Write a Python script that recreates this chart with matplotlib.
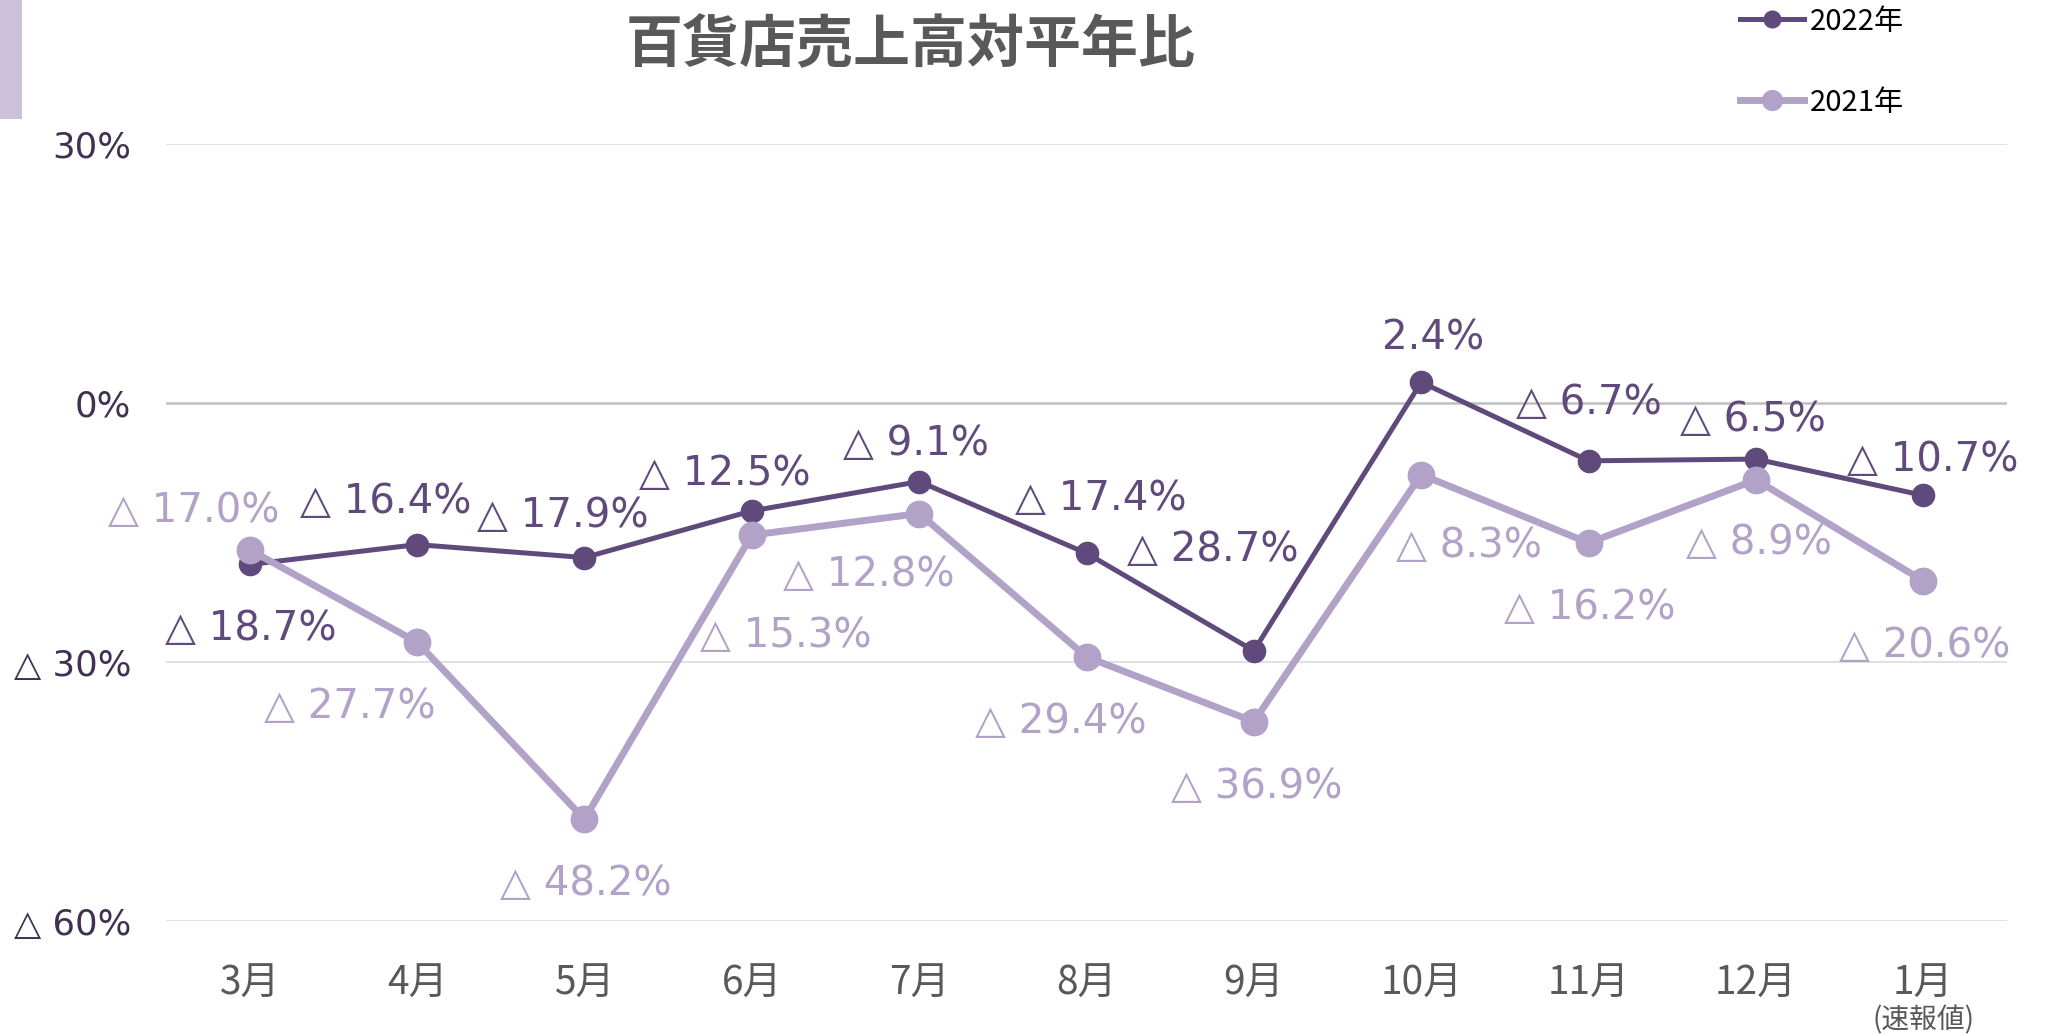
import matplotlib
matplotlib.use('Agg')
import matplotlib.pyplot as plt
from matplotlib.patches import Rectangle

plt.rcParams['font.family'] = ['Noto Sans CJK JP', 'DejaVu Sans']
num_font = ['DejaVu Sans', 'Noto Sans CJK JP']

months = ['3月', '4月', '5月', '6月', '7月', '8月', '9月', '10月', '11月', '12月', '1月']
y2022 = [-18.7, -16.4, -17.9, -12.5, -9.1, -17.4, -28.7, 2.4, -6.7, -6.5, -10.7]
y2021 = [-17.0, -27.7, -48.2, -15.3, -12.8, -29.4, -36.9, -8.3, -16.2, -8.9, -20.6]
yticks = [30, 0, -30, -60]
ytick_labels = ['30%', '0%', '△ 30%', '△ 60%']

# label offsets in pixels (layout only)
off2022 = [(1, -65), (-31, 43), (-22, 42), (-27, 37), (-3, 38), (14, 54),
           (-41, 101), (12, 44), (0, 58), (-3, 39), (9, 35)]
off2021 = [(-56, 39), (-67, -65), (1, -65), (34, -101), (-50, -61), (-26, -65),
           (3, -65), (48, -71), (1, -65), (3, -63), (1, -65)]

dark = '#604a7b'
light = '#b3a2c7'


def fmt(v):
    return '△ {:.1f}%'.format(-v) if v < 0 else '{:.1f}%'.format(v)


fig = plt.figure(figsize=(20.5, 10.35), dpi=100)
ax = fig.add_axes([0.081, 0.110, 0.898, 0.751])

for t in yticks:
    ax.axhline(t, color='#bfbfbf' if t == 0 else '#d9d9d9',
               lw=1.8 if t == 0 else 1.1, zorder=0)

x = range(len(months))
ax.plot(x, y2022, color=dark, lw=3.6, marker='o', ms=16, label='2022年', zorder=3)
ax.plot(x, y2021, color=light, lw=5, marker='o', ms=19, label='2021年', zorder=4)

for i, v in enumerate(y2022):
    ax.annotate(fmt(v), (i, v), xytext=off2022[i], textcoords='offset pixels',
                ha='center', va='center', fontsize=29, color=dark, family=num_font)
for i, v in enumerate(y2021):
    ax.annotate(fmt(v), (i, v), xytext=off2021[i], textcoords='offset pixels',
                ha='center', va='center', fontsize=29, color=light, family=num_font)

ax.set_xlim(-0.5, len(months) - 0.5)
ax.set_ylim(-60, 30)
ax.set_xticks(list(x))
ax.set_xticklabels(months, fontsize=28, color='#595959')
ax.set_yticks(yticks)
ax.set_yticklabels(ytick_labels, fontsize=25.5, color='#403152', family=num_font)
ax.tick_params(axis='y', length=0, pad=25)
ax.tick_params(axis='x', length=0, pad=31)
for s in ax.spines.values():
    s.set_visible(False)

ax.annotate('(速報値)', (len(months) - 1, 0), xycoords=('data', 'axes fraction'),
            xytext=(0, -99), textcoords='offset pixels', ha='center', va='center',
            fontsize=20, color='#595959')

fig.text(0.444, 0.956, '百貨店売上高対平年比', ha='center', va='center',
         fontsize=41, fontweight='bold', color='#595959')

fig.patches.append(Rectangle((0, 0.885), 0.0107, 0.115, transform=fig.transFigure,
                             facecolor='#ccc1da', edgecolor='none'))

h, l = ax.get_legend_handles_labels()
leg = fig.legend(h, l, loc='upper left', bbox_to_anchor=(0.836, 1.019),
                 frameon=False, fontsize=21, handlelength=2.2, handletextpad=0.2,
                 labelspacing=1.75, markerscale=0.75)

fig.savefig('out.png', dpi=100)
